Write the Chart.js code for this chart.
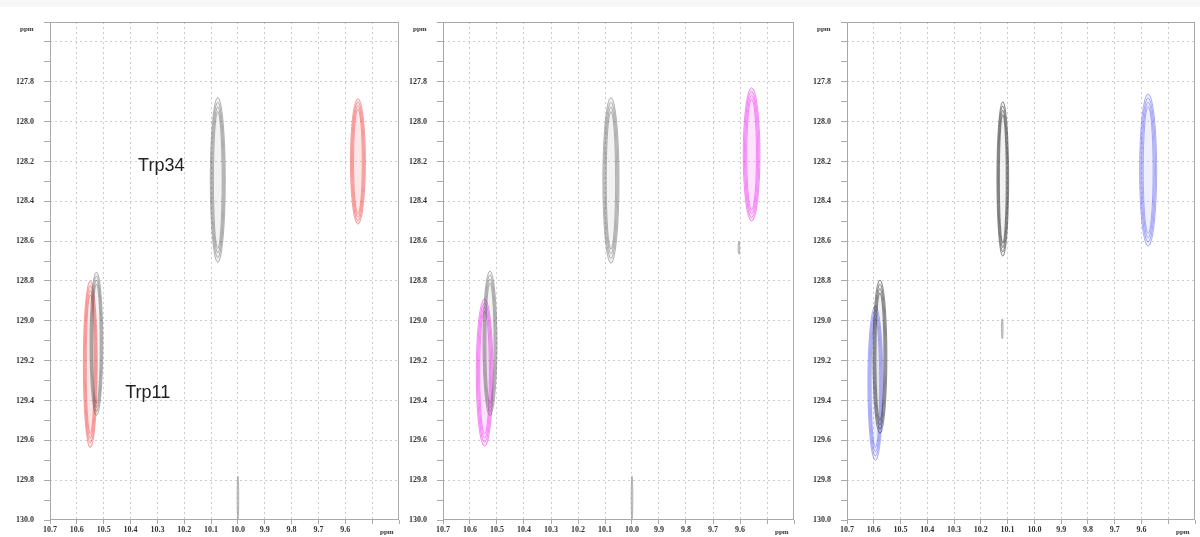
<!DOCTYPE html>
<html>
<head>
<meta charset="utf-8">
<script src="https://cdn.jsdelivr.net/npm/chart.js@4.4.0/dist/chart.umd.min.js"></script>
<style>
  html, body { margin: 0; padding: 0; background: #fff; }
  body { width: 1200px; height: 537px; position: relative; overflow: hidden; }
  .strip { position: absolute; left: 0; top: 0; width: 1200px; height: 7px; background: #f7f7f7; }
  canvas { position: absolute; top: 0; }
</style>
</head>
<body>
<div class="strip"></div>
<canvas id="c1" width="400" height="537" style="left:0px"></canvas>
<canvas id="c2" width="400" height="537" style="left:400px"></canvas>
<canvas id="c3" width="400" height="537" style="left:800px"></canvas>
<script>
// axis ranges (ppm), both axes run "backwards" like an NMR plot
const hMin = 9.4, hMax = 10.7;
const cMin = 127.5, cMax = 130.0;

// peaks: [1H centre, 13C centre, 1H half-width, 13C half-height]  (ppm)
const refPeaks1 = [[10.075, 128.293, 0.028, 0.413], [10.527, 129.115, 0.024, 0.36]];
const sampPeaks1 = [[9.553, 128.2, 0.028, 0.315], [10.55, 129.218, 0.026, 0.418]];
const noise1 = [[10.0, 129.89, 0.003, 0.11]];

const refPeaks2 = [[10.078, 128.295, 0.03, 0.415], [10.526, 129.113, 0.026, 0.363]];
const sampPeaks2 = [[9.557, 128.165, 0.031, 0.335], [10.546, 129.26, 0.031, 0.37]];
const noise2 = [[10.0, 129.89, 0.003, 0.11], [9.604, 128.633, 0.003, 0.033]];

const refPeaks3 = [[10.118, 128.288, 0.022, 0.388], [10.577, 129.18, 0.026, 0.385]];
const sampPeaks3 = [[9.575, 128.243, 0.032, 0.383], [10.594, 129.313, 0.028, 0.388]];
const noise3 = [[10.12, 129.04, 0.003, 0.05]];

// residue labels (first panel only)
const residues = ['Trp34', 'Trp11'];
const residueH = [10.372, 10.42];
const residueC = [128.225, 129.365];

const tickFont = { family: 'Liberation Serif', size: 8, weight: 'bold' };
const gridGray = 'rgba(0,0,0,0.2)';

const toPoints = arr => arr.map(p => ({ x: p[0], y: p[1], dx: p[2], dy: p[3] }));

// draws each peak as a stack of contour rings
const contourPlugin = {
  id: 'contours',
  afterDatasetsDraw(chart) {
    const { ctx, chartArea, scales: { x, y } } = chart;
    ctx.save();
    ctx.beginPath();
    ctx.rect(chartArea.left, chartArea.top, chartArea.width, chartArea.height);
    ctx.clip();
    chart.data.datasets.forEach((ds, i) => {
      const meta = chart.getDatasetMeta(i);
      meta.data.forEach((pt, j) => {
        const d = ds.data[j];
        const rx = Math.max(Math.abs(x.getPixelForValue(d.x + d.dx) - pt.x), 0.6);
        const ry = Math.abs(y.getPixelForValue(d.y + d.dy) - pt.y);
        ctx.fillStyle = ds.contourFill;
        ctx.beginPath();
        ctx.ellipse(pt.x, pt.y, rx, ry, 0, 0, Math.PI * 2);
        ctx.fill();
        ctx.strokeStyle = ds.contourLine;
        ctx.lineWidth = ds.rings ? 0.8 : 1;
        (ds.rings || [1]).forEach(f => {
          ctx.beginPath();
          ctx.ellipse(pt.x, pt.y, Math.max(rx * f, 0.4), ry * (0.6 + 0.4 * f), 0, 0, Math.PI * 2);
          ctx.stroke();
        });
      });
    });
    ctx.restore();
  },
  afterDraw(chart) {
    const { ctx, chartArea: a, scales: { x, y } } = chart;
    ctx.save();
    ctx.strokeStyle = '#a8a8a8';
    ctx.lineWidth = 1;
    ctx.strokeRect(a.left + 0.5, a.top + 0.5, a.width - 1, a.height - 1);
    ctx.fillStyle = '#333';
    ctx.font = 'bold 7px "Liberation Serif"';
    ctx.textBaseline = 'middle';
    ctx.textAlign = 'left';
    ctx.fillText('ppm', a.left - 30, a.top + 7);
    ctx.fillText('ppm', a.right - 19, a.bottom + 12);
    if (chart.options.showResidues) {
      ctx.fillStyle = '#222';
      ctx.font = '18px "Liberation Sans"';
      residues.forEach((r, i) => {
        ctx.fillText(r, x.getPixelForValue(residueH[i]), y.getPixelForValue(residueC[i]));
      });
    }
    ctx.restore();
  }
};

function makePanel(id, refPeaks, sampPeaks, noise, line, fill, refLine, pad, showResidues) {
  const rings = [1, 0.86, 0.72, 0.58];
  return new Chart(document.getElementById(id), {
    type: 'scatter',
    data: {
      datasets: [
        { label: 'sample', data: toPoints(sampPeaks), pointRadius: 0, rings: rings, contourLine: line, contourFill: fill },
        { label: 'reference', data: toPoints(refPeaks), pointRadius: 0, rings: rings, contourLine: refLine, contourFill: 'rgba(130,130,130,0.1)' },
        { label: 'noise', data: toPoints(noise), pointRadius: 0, contourLine: 'rgba(150,150,150,0.7)', contourFill: 'rgba(150,150,150,0.3)' }
      ]
    },
    options: {
      responsive: false,
      animation: false,
      events: [],
      devicePixelRatio: 1,
      showResidues: showResidues,
      layout: { padding: pad },
      plugins: { legend: { display: false }, tooltip: { enabled: false } },
      scales: {
        x: {
          type: 'linear', reverse: true, min: hMin, max: hMax,
          afterFit: s => { s.height = 17; },
          ticks: {
            stepSize: 0.1, autoSkip: false, maxRotation: 0, padding: 1,
            font: tickFont, color: '#333',
            callback: v => (v < 9.55 ? '' : v.toFixed(1))
          },
          grid: {
            color: c => (c.tick && c.tick.value > hMin + 0.05 && c.tick.value < hMax - 0.05 ? gridGray : 'rgba(0,0,0,0)'),
            tickColor: '#aaa', tickLength: 4, lineWidth: 1
          },
          border: { display: false, dash: [2, 3] }
        },
        y: {
          type: 'linear', reverse: true, min: cMin, max: cMax,
          afterFit: s => { s.width = 40; },
          ticks: {
            stepSize: 0.1, autoSkip: false, padding: 10,
            font: tickFont, color: '#333',
            callback: v => {
              const k = Math.round(v * 10);
              return (k % 2 === 0 && v > 127.7) ? v.toFixed(1) : '';
            }
          },
          grid: {
            color: c => {
              if (!c.tick) return 'rgba(0,0,0,0)';
              const k = Math.round(c.tick.value * 10);
              return (k % 2 === 0 && c.tick.value > cMin + 0.05 && c.tick.value < cMax - 0.05) ? gridGray : 'rgba(0,0,0,0)';
            },
            tickColor: '#aaa', tickLength: 6, lineWidth: 1
          },
          border: { display: false, dash: [2, 3] }
        }
      }
    },
    plugins: [contourPlugin]
  });
}

makePanel('c1', refPeaks1, sampPeaks1, noise1, 'rgba(240,50,50,0.55)', 'rgba(240,80,80,0.14)', 'rgba(50,50,50,0.45)',
  { left: 10, top: 22, right: 1, bottom: 0 }, true);
makePanel('c2', refPeaks2, sampPeaks2, noise2, 'rgba(235,30,235,0.6)', 'rgba(240,80,240,0.16)', 'rgba(50,50,50,0.45)',
  { left: 3, top: 22, right: 6, bottom: 0 }, false);
makePanel('c3', refPeaks3, sampPeaks3, noise3, 'rgba(60,60,235,0.5)', 'rgba(90,90,240,0.1)', 'rgba(20,20,20,0.6)',
  { left: 7, top: 22, right: 5, bottom: 0 }, false);
</script>
</body>
</html>
